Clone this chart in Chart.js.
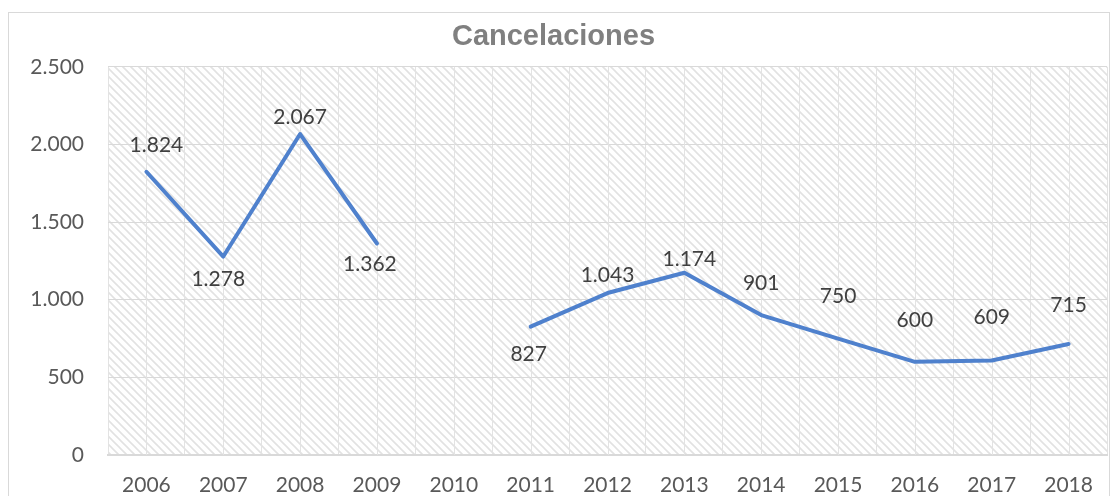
<!DOCTYPE html>
<html>
<head>
<meta charset="utf-8">
<script src="https://cdn.jsdelivr.net/npm/chart.js@4/dist/chart.umd.min.js"></script>
<style>
  html, body { margin: 0; padding: 0; background: #fff; }
  #wrap { position: relative; width: 1118px; height: 496px; }
</style>
</head>
<body>
<div id="wrap"><canvas id="cancel-chart"></canvas></div>
<script>
// Chart data
const years = ['2006', '2007', '2008', '2009', '2010', '2011', '2012', '2013', '2014', '2015', '2016', '2017', '2018'];
const cancelaciones = [1824, 1278, 2067, 1362, null, 827, 1043, 1174, 901, 750, 600, 609, 715];
const yTicks = [0, 500, 1000, 1500, 2000, 2500];

// label placement (px above the point, negative = below)
const labelDy = [27, -23, 17, -21, 0, -28, 18, 13, 32, 42, 42, 43, 39];
const labelDx = [10, -5, 0, -7, 0, -2, 0, 5, 0, 0, 0, 0, 0];

const fmt = v => String(v).replace(/\B(?=(\d{3})+(?!\d))/g, '.');
const FONT = 'Lato, "Noto Sans", sans-serif';

// diagonal hatch for the plot area
function makeHatch() {
    const c = document.createElement('canvas');
    c.width = 8; c.height = 8;
    const g = c.getContext('2d');
    g.fillStyle = '#ffffff';
    g.fillRect(0, 0, 8, 8);
    g.strokeStyle = '#e2e2e2';
    g.lineWidth = 1.6;
    g.beginPath();
    g.moveTo(-2, -2); g.lineTo(10, 10);
    g.moveTo(-2, 6); g.lineTo(2, 10);
    g.moveTo(6, -2); g.lineTo(10, 2);
    g.stroke();
    return g.createPattern(c, 'repeat');
}

const backdrop = {
    id: 'backdrop',
    beforeDraw(chart) {
        const { ctx, chartArea: a } = chart;
        ctx.save();
        ctx.strokeStyle = '#d9d9d9';
        ctx.lineWidth = 1;
        ctx.strokeRect(8.5, 12.5, 1101, 500);
        ctx.fillStyle = makeHatch();
        ctx.fillRect(a.left, a.top, a.right - a.left, a.bottom - a.top);
        ctx.restore();
    },
    beforeDatasetsDraw(chart) {
        // extra vertical gridlines through the category centres
        const { ctx, chartArea: a, scales } = chart;
        ctx.save();
        ctx.strokeStyle = '#e3e3e3';
        ctx.lineWidth = 1;
        years.forEach((y, i) => {
            const x = Math.round(scales.x.getPixelForValue(i)) + 0.5;
            ctx.beginPath();
            ctx.moveTo(x, a.top);
            ctx.lineTo(x, a.bottom);
            ctx.stroke();
        });
        ctx.restore();
    }
};

const valueLabels = {
    id: 'valueLabels',
    afterDatasetsDraw(chart) {
        const { ctx } = chart;
        const meta = chart.getDatasetMeta(0);
        ctx.save();
        ctx.font = '21px ' + FONT;
        ctx.fillStyle = '#404040';
        ctx.textAlign = 'center';
        ctx.textBaseline = 'middle';
        meta.data.forEach((pt, i) => {
            const v = cancelaciones[i];
            if (v === null) return;
            ctx.fillText(fmt(v), pt.x + labelDx[i], pt.y - labelDy[i]);
        });
        ctx.restore();
    }
};

const chart = new Chart(document.getElementById('cancel-chart'), {
    type: 'line',
    data: {
        labels: years,
        datasets: [{
            label: 'Cancelaciones',
            data: cancelaciones,
            borderColor: '#4f81cd',
            borderWidth: 4,
            pointRadius: 0,
            tension: 0,
            spanGaps: false,
            borderCapStyle: 'round',
            borderJoinStyle: 'round'
        }]
    },
    options: {
        responsive: true,
        maintainAspectRatio: false,
        animation: false,
        layout: { padding: { top: 0, left: 0, right: 11, bottom: 0 } },
        plugins: {
            legend: { display: false },
            tooltip: { enabled: false },
            title: {
                display: true,
                text: 'Cancelaciones',
                color: '#808080',
                font: { family: 'Arial, "Liberation Sans", sans-serif', size: 29, weight: 'bold' },
                padding: { top: 20, bottom: 12 }
            }
        },
        scales: {
            x: {
                offset: true,
                grid: { offset: true, color: '#e3e3e3', drawTicks: false },
                border: { color: '#d9d9d9', width: 2 },
                ticks: { color: '#595959', font: { family: FONT, size: 21 }, padding: 18, maxRotation: 0 },
                afterFit(s) { s.height = 41; }
            },
            y: {
                min: 0,
                max: 2500,
                afterBuildTicks(s) { s.ticks = yTicks.map(v => ({ value: v })); },
                grid: { color: '#d9d9d9', drawTicks: false },
                border: { display: false },
                ticks: { color: '#595959', font: { family: FONT, size: 21 }, padding: 24, callback: v => fmt(v) },
                afterFit(s) { s.width = 108; }
            }
        }
    },
    plugins: [backdrop, valueLabels]
});
</script>
</body>
</html>
